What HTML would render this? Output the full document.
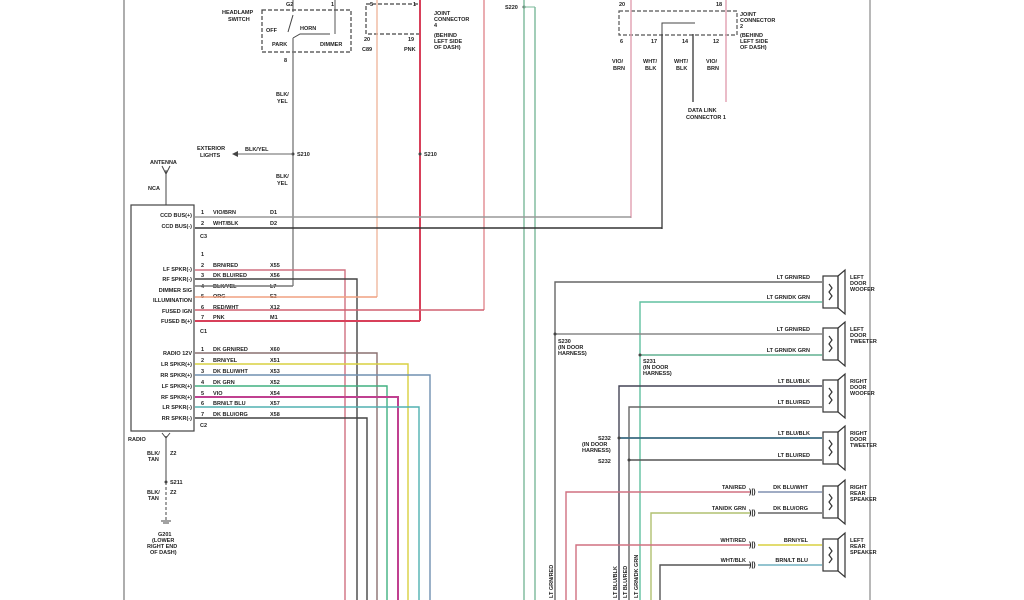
<!DOCTYPE html>
<html><head><meta charset="utf-8"><style>
html,body{margin:0;padding:0;background:#fff;}
svg{display:block;}
text{font-family:"Liberation Sans",sans-serif;font-size:5.5px;font-weight:bold;fill:#222;}
</style></head><body>
<svg width="1024" height="600" viewBox="0 0 1024 600" xmlns="http://www.w3.org/2000/svg">
<rect width="1024" height="600" fill="#fff"/>
<line x1="124" y1="0" x2="124" y2="600" stroke="#777" stroke-width="1.2"/>
<line x1="870" y1="0" x2="870" y2="600" stroke="#888" stroke-width="1.2"/>

<rect x="262" y="10" width="89" height="42" fill="none" stroke="#444" stroke-dasharray="4,2" stroke-width="1.2"/>
<text x="222" y="14">HEADLAMP</text><text x="228" y="21">SWITCH</text>
<text x="266" y="32">OFF</text><text x="300" y="30">HORN</text>
<text x="272" y="46">PARK</text><text x="320" y="46">DIMMER</text>
<text x="286" y="6">G2</text><text x="331" y="6">1</text><text x="284" y="62">8</text>
<line x1="293" y1="0" x2="293" y2="12" stroke="#555"/>
<line x1="335" y1="0" x2="335" y2="34" stroke="#555"/>
<line x1="293" y1="15" x2="288" y2="32" stroke="#444"/>
<polyline points="293,38 300,34 330,34" fill="none" stroke="#444"/>
<line x1="293" y1="38" x2="293" y2="286" stroke="#777" stroke-width="1.3"/>
<text x="276" y="96">BLK/</text><text x="277" y="103">YEL</text>
<text x="276" y="178">BLK/</text><text x="277" y="185">YEL</text>
<circle cx="293" cy="154" r="1.5" fill="#444"/><text x="297" y="156">S210</text>
<line x1="238" y1="154" x2="293" y2="154" stroke="#666"/>
<polygon points="232,154 238,151 238,157" fill="#444"/>
<text x="245" y="151">BLK/YEL</text>
<text x="197" y="150">EXTERIOR</text><text x="200" y="157">LIGHTS</text>

<rect x="366" y="4" width="54" height="30" fill="none" stroke="#444" stroke-dasharray="4,2" stroke-width="1.2"/>
<text x="370" y="6">5</text><text x="413" y="6">1</text>
<text x="364" y="41">20</text><text x="408" y="41">19</text>
<text x="362" y="51">C89</text><text x="404" y="51">PNK</text>
<text x="434" y="15">JOINT</text><text x="434" y="21">CONNECTOR</text><text x="434" y="27">4</text>
<text x="434" y="37">(BEHIND</text><text x="434" y="43">LEFT SIDE</text><text x="434" y="49">OF DASH)</text>
<line x1="377" y1="0" x2="377" y2="297" stroke="#f0b8a0" stroke-width="1.4"/>
<line x1="420" y1="0" x2="420" y2="321" stroke="#d8405a" stroke-width="2"/>
<circle cx="420" cy="154" r="1.5" fill="#444"/><text x="424" y="156">S210</text>
<line x1="484" y1="0" x2="484" y2="310" stroke="#e08a90" stroke-width="1.4"/>

<text x="505" y="9">S220</text><circle cx="524" cy="7" r="1.5" fill="#444"/>
<line x1="524" y1="0" x2="524" y2="600" stroke="#7ab89a" stroke-width="1.4"/>
<line x1="535" y1="7" x2="535" y2="600" stroke="#7ab89a" stroke-width="1.4"/>
<line x1="524" y1="7" x2="535" y2="7" stroke="#7ab89a"/>

<rect x="619" y="11" width="118" height="24" fill="none" stroke="#555" stroke-dasharray="4,2" stroke-width="1.2"/>
<text x="619" y="6">20</text><text x="716" y="6">18</text>
<text x="620" y="43">6</text><text x="651" y="43">17</text><text x="682" y="43">14</text><text x="713" y="43">12</text>
<text x="740" y="16">JOINT</text><text x="740" y="22">CONNECTOR</text><text x="740" y="28">2</text>
<text x="740" y="37">(BEHIND</text><text x="740" y="43">LEFT SIDE</text><text x="740" y="49">OF DASH)</text>
<polyline points="662,34 662,23 695,23" fill="none" stroke="#444"/>
<line x1="631" y1="0" x2="631" y2="218" stroke="#e0a0b0" stroke-width="1.4"/>
<line x1="662" y1="34" x2="662" y2="229" stroke="#444" stroke-width="1.4"/>
<line x1="693" y1="34" x2="693" y2="102" stroke="#444" stroke-width="1.4"/>
<line x1="726" y1="0" x2="726" y2="102" stroke="#e0a0b0" stroke-width="1.4"/>
<text x="612" y="63">VIO/</text><text x="613" y="70">BRN</text>
<text x="643" y="63">WHT/</text><text x="645" y="70">BLK</text>
<text x="674" y="63">WHT/</text><text x="676" y="70">BLK</text>
<text x="706" y="63">VIO/</text><text x="707" y="70">BRN</text>
<text x="688" y="112">DATA LINK</text><text x="686" y="119">CONNECTOR 1</text>

<text x="150" y="164">ANTENNA</text>
<polyline points="162,166 166,174 170,166" fill="none" stroke="#444"/>
<line x1="166" y1="170" x2="166" y2="205" stroke="#444"/>
<text x="148" y="190">NCA</text>

<rect x="131" y="205" width="63" height="226" fill="none" stroke="#444" stroke-width="1.2"/>
<g text-anchor="end">
<text x="192" y="217">CCD BUS(+)</text><text x="192" y="228">CCD BUS(-)</text>
<text x="192" y="271">LF SPKR(-)</text><text x="192" y="281">RF SPKR(-)</text>
<text x="192" y="292">DIMMER SIG</text><text x="192" y="302">ILLUMINATION</text>
<text x="192" y="313">FUSED IGN</text><text x="192" y="323">FUSED B(+)</text>
<text x="192" y="355">RADIO 12V</text><text x="192" y="366">LR SPKR(+)</text>
<text x="192" y="377">RR SPKR(+)</text><text x="192" y="388">LF SPKR(+)</text>
<text x="192" y="399">RF SPKR(+)</text><text x="192" y="409">LR SPKR(-)</text>
<text x="192" y="420">RR SPKR(-)</text>
</g>
<text x="200" y="238">C3</text><text x="200" y="333">C1</text><text x="200" y="427">C2</text>
<text x="128" y="441">RADIO</text>

<g>
<text x="201" y="214">1</text><text x="213" y="214">VIO/BRN</text><text x="270" y="214">D1</text>
<text x="201" y="225">2</text><text x="213" y="225">WHT/BLK</text><text x="270" y="225">D2</text>
<text x="201" y="256">1</text>
<text x="201" y="267">2</text><text x="213" y="267">BRN/RED</text><text x="270" y="267">X55</text>
<text x="201" y="277">3</text><text x="213" y="277">DK BLU/RED</text><text x="270" y="277">X56</text>
<text x="201" y="288">4</text><text x="213" y="288">BLK/YEL</text><text x="270" y="288">L7</text>
<text x="201" y="298">5</text><text x="213" y="298">ORG</text><text x="270" y="298">E2</text>
<text x="201" y="309">6</text><text x="213" y="309">RED/WHT</text><text x="270" y="309">X12</text>
<text x="201" y="319">7</text><text x="213" y="319">PNK</text><text x="270" y="319">M1</text>
<text x="201" y="351">1</text><text x="213" y="351">DK GRN/RED</text><text x="270" y="351">X60</text>
<text x="201" y="362">2</text><text x="213" y="362">BRN/YEL</text><text x="270" y="362">X51</text>
<text x="201" y="373">3</text><text x="213" y="373">DK BLU/WHT</text><text x="270" y="373">X53</text>
<text x="201" y="384">4</text><text x="213" y="384">DK GRN</text><text x="270" y="384">X52</text>
<text x="201" y="395">5</text><text x="213" y="395">VIO</text><text x="270" y="395">X54</text>
<text x="201" y="405">6</text><text x="213" y="405">BRN/LT BLU</text><text x="270" y="405">X57</text>
<text x="201" y="416">7</text><text x="213" y="416">DK BLU/ORG</text><text x="270" y="416">X58</text>
</g>

<g fill="none" stroke-width="1.4">
<polyline points="195,217 631,217" stroke="#999"/>
<polyline points="195,228 662,228" stroke="#333"/>
<polyline points="195,270 345,270 345,600" stroke="#d07080"/>
<polyline points="195,279 357,279 357,600" stroke="#444"/>
<polyline points="195,286 293,286" stroke="#777"/>
<polyline points="195,297 377,297" stroke="#f0a080"/>
<polyline points="195,310 484,310" stroke="#d06070"/>
<polyline points="195,321 420,321" stroke="#d8405a" stroke-width="2"/>
<polyline points="195,353 377,353 377,600" stroke="#8a7070"/>
<polyline points="195,364 408,364 408,600" stroke="#d8d040"/>
<polyline points="195,375 430,375 430,600" stroke="#7090b0"/>
<polyline points="195,386 387,386 387,600" stroke="#40b080"/>
<polyline points="195,397 398,397 398,600" stroke="#c04090" stroke-width="2"/>
<polyline points="195,407 419,407 419,600" stroke="#50b0b0"/>
<polyline points="195,418 367,418 367,600" stroke="#444"/>
</g>

<polyline points="162,433 166,438 170,433" fill="none" stroke="#444"/>
<line x1="166" y1="436" x2="166" y2="482" stroke="#444"/>
<line x1="166" y1="482" x2="166" y2="520" stroke="#444" stroke-dasharray="3,2"/>
<text x="147" y="455">BLK/</text><text x="148" y="461">TAN</text><text x="170" y="455">Z2</text>
<circle cx="166" cy="482" r="1.5" fill="#444"/><text x="170" y="484">S211</text>
<text x="147" y="494">BLK/</text><text x="148" y="500">TAN</text><text x="170" y="494">Z2</text>
<line x1="161" y1="521" x2="171" y2="521" stroke="#444"/><line x1="163" y1="523" x2="169" y2="523" stroke="#444"/>
<text x="158" y="536">G201</text><text x="152" y="542">(LOWER</text><text x="147" y="548">RIGHT END</text><text x="150" y="554">OF DASH)</text>

<g fill="none" stroke-width="1.4">
<polyline points="555,600 555,282 822,282" stroke="#666"/>
<polyline points="640,600 640,302 822,302" stroke="#60c0a0"/>
<polyline points="555,334 822,334" stroke="#888"/>
<polyline points="640,355 822,355" stroke="#60b090"/>
<polyline points="619,600 619,386 822,386" stroke="#445"/>
<polyline points="629,600 629,407 822,407" stroke="#666"/>
<polyline points="619,438 822,438" stroke="#3a6a80" stroke-width="1.7"/>
<polyline points="629,460 822,460" stroke="#555"/>
<polyline points="566,600 566,492 751,492" stroke="#d07080"/>
<polyline points="758,492 822,492" stroke="#8090b0"/>
<polyline points="651,600 651,513 751,513" stroke="#b0c070"/>
<polyline points="758,513 822,513" stroke="#666"/>
<polyline points="576,600 576,545 751,545" stroke="#d07080"/>
<polyline points="758,545 822,545" stroke="#d8d040"/>
<polyline points="660,600 660,565 751,565" stroke="#555"/>
<polyline points="758,565 822,565" stroke="#70b0c0"/>
</g>
<circle cx="555" cy="334" r="1.5" fill="#444"/><circle cx="640" cy="355" r="1.5" fill="#444"/>
<circle cx="619" cy="438" r="1.5" fill="#444"/><circle cx="629" cy="460" r="1.5" fill="#444"/>
<text x="558" y="343">S230</text><text x="558" y="349">(IN DOOR</text><text x="558" y="355">HARNESS)</text>
<text x="643" y="363">S231</text><text x="643" y="369">(IN DOOR</text><text x="643" y="375">HARNESS)</text>
<text x="598" y="440">S232</text><text x="582" y="446">(IN DOOR</text><text x="582" y="452">HARNESS)</text><text x="598" y="463">S232</text>
<g text-anchor="end">
<text x="810" y="279">LT GRN/RED</text><text x="810" y="299">LT GRN/DK GRN</text>
<text x="810" y="331">LT GRN/RED</text><text x="810" y="352">LT GRN/DK GRN</text>
<text x="810" y="383">LT BLU/BLK</text><text x="810" y="404">LT BLU/RED</text>
<text x="810" y="435">LT BLU/BLK</text><text x="810" y="457">LT BLU/RED</text>
<text x="746" y="489">TAN/RED</text><text x="746" y="510">TAN/DK GRN</text>
<text x="746" y="542">WHT/RED</text><text x="746" y="562">WHT/BLK</text>
<text x="808" y="489">DK BLU/WHT</text><text x="808" y="510">DK BLU/ORG</text>
<text x="808" y="542">BRN/YEL</text><text x="808" y="562">BRN/LT BLU</text>
</g>
<g>
<text x="749" y="494" style="font-size:7px">)|)</text><text x="749" y="515" style="font-size:7px">)|)</text>
<text x="749" y="547" style="font-size:7px">)|)</text><text x="749" y="567" style="font-size:7px">)|)</text>
</g>
<g fill="none" stroke="#333" stroke-width="1.2">
<g id="spk"><rect x="823" y="276" width="15" height="32"/><polygon points="838,276 845,270 845,314 838,308"/><polyline points="829,284 832,288 829,292 832,296 829,300"/></g>
<use href="#spk" y="52"/><use href="#spk" y="104"/><use href="#spk" y="156"/><use href="#spk" y="210"/><use href="#spk" y="263"/>
</g>
<g>
<text x="850" y="279">LEFT</text><text x="850" y="285">DOOR</text><text x="850" y="291">WOOFER</text>
<text x="850" y="331">LEFT</text><text x="850" y="337">DOOR</text><text x="850" y="343">TWEETER</text>
<text x="850" y="383">RIGHT</text><text x="850" y="389">DOOR</text><text x="850" y="395">WOOFER</text>
<text x="850" y="435">RIGHT</text><text x="850" y="441">DOOR</text><text x="850" y="447">TWEETER</text>
<text x="850" y="489">RIGHT</text><text x="850" y="495">REAR</text><text x="850" y="501">SPEAKER</text>
<text x="850" y="542">LEFT</text><text x="850" y="548">REAR</text><text x="850" y="554">SPEAKER</text>
</g>
<g>
<text transform="translate(553,598) rotate(-90)">LT GRN/RED</text>
<text transform="translate(617,598) rotate(-90)">LT BLU/BLK</text>
<text transform="translate(627,598) rotate(-90)">LT BLU/RED</text>
<text transform="translate(638,598) rotate(-90)">LT GRN/DK GRN</text>
</g>
</svg>
</body></html>
